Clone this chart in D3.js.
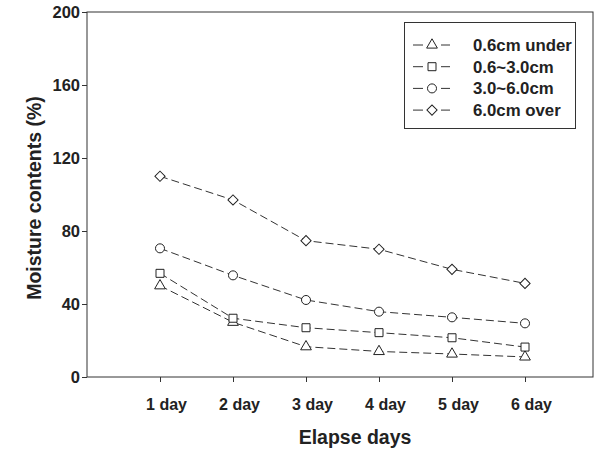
<!DOCTYPE html>
<html>
<head>
<meta charset="utf-8">
<script src="https://cdn.jsdelivr.net/npm/d3@7"></script>
<style>
  body { margin: 0; background: #fff; }
  text { font-family: "Liberation Sans", Arial, sans-serif; font-weight: bold; fill: #222; }
</style>
</head>
<body>
<div id="chart"></div>
<script>
var days = [1, 2, 3, 4, 5, 6];
var dayLabels = ["1 day", "2 day", "3 day", "4 day", "5 day", "6 day"];
var yTicks = [0, 40, 80, 120, 160, 200];
var seriesNames = ["0.6cm under", "0.6~3.0cm", "3.0~6.0cm", "6.0cm over"];
var under06 = [50, 30, 16.6, 14, 12.6, 11];
var from06to30 = [56.8, 32.2, 27, 24.3, 21.5, 16.4];
var from30to60 = [70.5, 55.7, 42.2, 35.8, 32.7, 29.4];
var over60 = [110, 97, 74.7, 70, 59, 51.3];
var symbols = ["triangle", "square", "circle", "diamond"];

function init() {
    var w = 506;
    var h = 365;
    var left = 87, top = 12;

    var svg = d3.select("#chart")
        .append("svg")
        .attr("width", 600)
        .attr("height", 450);

    var g = svg.append("g")
        .attr("transform", "translate(" + left + "," + top + ")");

    var xScale = d3.scaleLinear().domain([1, 6]).range([73, 438]);
    var yScale = d3.scaleLinear().domain([0, 200]).range([h, 0]);

    // frame
    g.append("rect")
        .attr("width", w).attr("height", h)
        .attr("fill", "none").attr("stroke", "#333").attr("stroke-width", 1);

    // x axis
    var xAxis = d3.axisBottom(xScale)
        .tickValues(days)
        .tickSize(5)
        .tickFormat(function(d, i) { return dayLabels[i]; });
    var gx = g.append("g")
        .attr("transform", "translate(0," + h + ")")
        .call(xAxis);
    gx.select(".domain").remove();
    gx.selectAll("line").attr("stroke", "#333");
    gx.selectAll("text")
        .attr("y", 22).attr("dx", 6)
        .style("font-size", "16px");

    // y axis
    var yAxis = d3.axisLeft(yScale).tickValues(yTicks).tickSize(5).tickPadding(2);
    var gy = g.append("g").call(yAxis);
    gy.select(".domain").remove();
    gy.selectAll("line").attr("stroke", "#333");
    gy.selectAll("text").style("font-size", "16.5px");

    // titles
    svg.append("text")
        .attr("x", 355).attr("y", 444)
        .attr("text-anchor", "middle")
        .style("font-size", "19.5px")
        .text("Elapse days");
    svg.append("text")
        .attr("transform", "translate(41,198) rotate(-90)")
        .attr("text-anchor", "middle")
        .style("font-size", "19.5px")
        .text("Moisture contents (%)");

    var allSeries = [under06, from06to30, from30to60, over60];
    var symbolTypes = {
        triangle: d3.symbolTriangle,
        square: d3.symbolSquare,
        circle: d3.symbolCircle,
        diamond: d3.symbolSquare
    };
    var symbolSizes = { triangle: 50, square: 64, circle: 64, diamond: 52 };
    var symbolRot = function(name) { return name === "diamond" ? " rotate(45)" : ""; };

    var line = d3.line()
        .x(function(d, i) { return xScale(days[i]); })
        .y(function(d) { return yScale(d); });

    allSeries.forEach(function(vals, s) {
        g.append("path")
            .datum(vals)
            .attr("d", line)
            .attr("fill", "none")
            .attr("stroke", "#333")
            .attr("stroke-width", 1)
            .attr("stroke-dasharray", "8 4");

        var sym = d3.symbol().type(symbolTypes[symbols[s]]).size(symbolSizes[symbols[s]]);
        g.selectAll(".pt" + s)
            .data(vals)
            .enter()
            .append("path")
            .attr("class", "pt" + s)
            .attr("d", sym)
            .attr("transform", function(d, i) {
                return "translate(" + xScale(days[i]) + "," + yScale(d) + ")" + symbolRot(symbols[s]);
            })
            .attr("fill", "#fff")
            .attr("stroke", "#222")
            .attr("stroke-width", 1);
    });

    // legend
    var lg = svg.append("g");
    lg.append("rect")
        .attr("x", 404.5).attr("y", 22.5)
        .attr("width", 171).attr("height", 106)
        .attr("fill", "#fff").attr("stroke", "#333");
    seriesNames.forEach(function(name, s) {
        var yy = 45 + s * 21.7;
        [[413, 423], [441, 450]].forEach(function(seg) {
            lg.append("line")
                .attr("x1", seg[0]).attr("x2", seg[1])
                .attr("y1", yy).attr("y2", yy)
                .attr("stroke", "#333");
        });
        var sym = d3.symbol().type(symbolTypes[symbols[s]]).size(symbolSizes[symbols[s]]);
        lg.append("path")
            .attr("d", sym)
            .attr("transform", "translate(432," + yy + ")" + symbolRot(symbols[s]))
            .attr("fill", "#fff").attr("stroke", "#222");
        lg.append("text")
            .attr("x", 473).attr("y", yy + 6)
            .style("font-size", "16.8px")
            .text(name);
    });
}

window.onload = init;
</script>
</body>
</html>
